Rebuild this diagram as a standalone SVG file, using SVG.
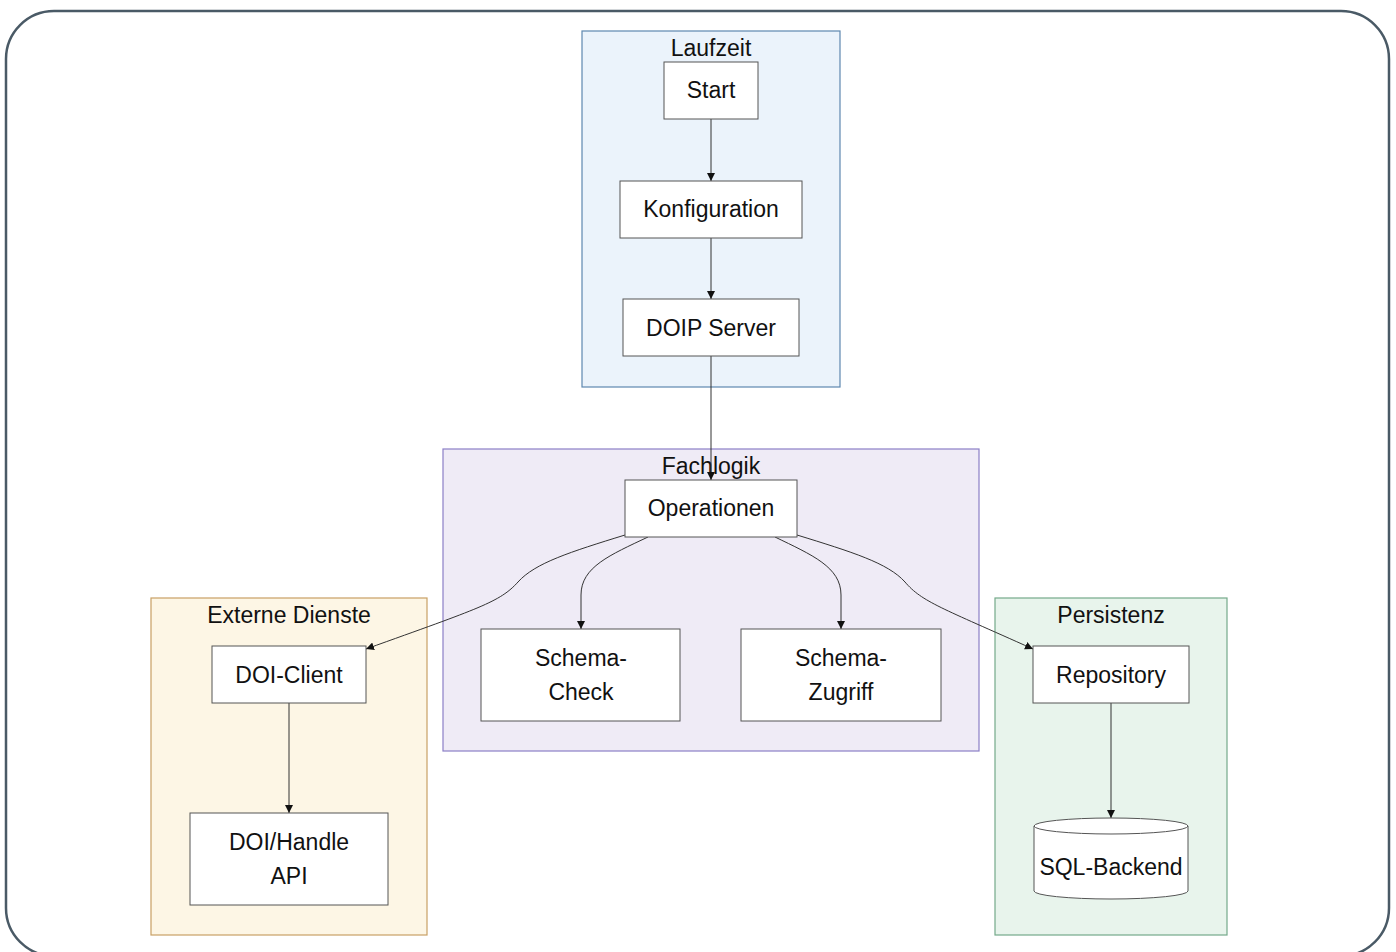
<svg xmlns="http://www.w3.org/2000/svg" width="1396" height="952" viewBox="0 0 1396 952">
<style>
.frame{fill:#fff;stroke:#4a5a66;stroke-width:2.5}
.node rect,.node path.body{fill:#fff;stroke:#555;stroke-width:1}
.t{font-family:"Liberation Sans",Arial,sans-serif;font-size:23px;fill:#111;text-anchor:middle}
.edge{fill:none;stroke:#333;stroke-width:1}
</style>
<defs>
<marker id="arr" viewBox="0 0 10 10" refX="10" refY="5" markerWidth="8" markerHeight="8" markerUnits="userSpaceOnUse" orient="auto">
<path d="M0,0 L10,5 L0,10 z" fill="#111"/>
</marker>
</defs>
<rect class="frame" x="6" y="11" width="1383" height="945" rx="48" ry="48"/>
<g id="cluster-laufzeit">
<rect x="582" y="31" width="258" height="356" fill="#ebf3fb" stroke="#5e88b0" stroke-width="1.2"/>
<text class="t" x="711" y="56">Laufzeit</text>
</g>
<g id="cluster-fachlogik">
<rect x="443" y="449" width="536" height="302" fill="#efebf6" stroke="#8b7fc7" stroke-width="1.2"/>
<text class="t" x="711" y="474">Fachlogik</text>
</g>
<g id="cluster-extern">
<rect x="151" y="598" width="276" height="337" fill="#fdf6e5" stroke="#c8a064" stroke-width="1.2"/>
<text class="t" x="289" y="623">Externe Dienste</text>
</g>
<g id="cluster-persistenz">
<rect x="995" y="598" width="232" height="337" fill="#e8f4ec" stroke="#74a98a" stroke-width="1.2"/>
<text class="t" x="1111" y="623">Persistenz</text>
</g>
<g id="edges">
<path class="edge" d="M711,119 L711,181" marker-end="url(#arr)"/>
<path class="edge" d="M711,238 L711,299" marker-end="url(#arr)"/>
<path class="edge" d="M711,356 L711,480" marker-end="url(#arr)"/>
<path class="edge" d="M625,535 C570,552 535,563 518,582 C500,602 480,608 366,649" marker-end="url(#arr)"/>
<path class="edge" d="M648,537 C610,555 581,567 581,595 L581,629" marker-end="url(#arr)"/>
<path class="edge" d="M775,537 C812,555 841,567 841,595 L841,629" marker-end="url(#arr)"/>
<path class="edge" d="M797,535 C852,552 888,563 905,582 C922,602 942,608 1033,649" marker-end="url(#arr)"/>
<path class="edge" d="M289,703 L289,813" marker-end="url(#arr)"/>
<path class="edge" d="M1111,703 L1111,818" marker-end="url(#arr)"/>
</g>
<g id="node-start" class="node"><rect x="664" y="62" width="94" height="57"/><text class="t" x="711" y="98">Start</text></g>
<g id="node-konfiguration" class="node"><rect x="620" y="181" width="182" height="57"/><text class="t" x="711" y="217">Konfiguration</text></g>
<g id="node-doip" class="node"><rect x="623" y="299" width="176" height="57"/><text class="t" x="711" y="336">DOIP Server</text></g>
<g id="node-operationen" class="node"><rect x="625" y="480" width="172" height="57"/><text class="t" x="711" y="516">Operationen</text></g>
<g id="node-schemacheck" class="node"><rect x="481" y="629" width="199" height="92"/><text class="t" x="581" y="666">Schema-</text><text class="t" x="581" y="700">Check</text></g>
<g id="node-schemazugriff" class="node"><rect x="741" y="629" width="200" height="92"/><text class="t" x="841" y="666">Schema-</text><text class="t" x="841" y="700">Zugriff</text></g>
<g id="node-doiclient" class="node"><rect x="212" y="646" width="154" height="57"/><text class="t" x="289" y="683">DOI-Client</text></g>
<g id="node-doiapi" class="node"><rect x="190" y="813" width="198" height="92"/><text class="t" x="289" y="850">DOI/Handle</text><text class="t" x="289" y="884">API</text></g>
<g id="node-repository" class="node"><rect x="1033" y="646" width="156" height="57"/><text class="t" x="1111" y="683">Repository</text></g>
<g id="node-sql" class="node">
<path class="body" d="M1034,826 A77,8 0 0 1 1188,826 L1188,891 A77,8 0 0 1 1034,891 Z"/>
<path d="M1034,826 A77,8 0 0 0 1188,826" fill="none" stroke="#555" stroke-width="1"/>
<text class="t" x="1111" y="875">SQL-Backend</text>
</g>
</svg>
